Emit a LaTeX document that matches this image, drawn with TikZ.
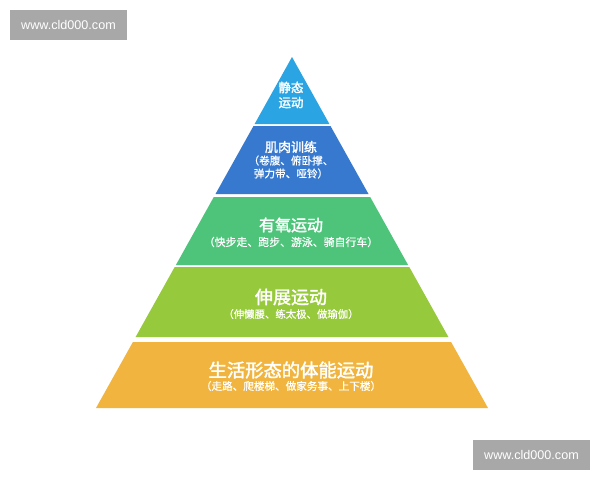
\documentclass[tikz,border=0pt]{standalone}
\usepackage{fontspec}
\setmainfont{Liberation Sans}
\newfontfamily\cjk[AutoFakeBold=2]{Noto Sans CJK SC}
\newfontfamily\cjkthin[AutoFakeBold=0.6]{Noto Sans CJK SC}
\definecolor{tierA}{HTML}{2AA4E2}
\definecolor{tierB}{HTML}{3679CF}
\definecolor{tierC}{HTML}{4DC47A}
\definecolor{tierD}{HTML}{96C93B}
\definecolor{tierE}{HTML}{F1B53F}
\definecolor{wmgrey}{HTML}{A8A8A8}
\begin{document}
\begin{tikzpicture}[x=1pt,y=-1pt,
  title/.style={text=white,font=\cjk\bfseries,inner sep=0pt,align=center},
  sub/.style={text=white,font=\cjkthin\bfseries,inner sep=0pt,align=center},
  wm/.style={fill=wmgrey,text=white,font=\fontsize{12.6}{14}\selectfont,inner sep=0pt,minimum width=117pt,minimum height=30pt}]
\useasboundingbox (0,0) rectangle (600,480);
\fill[white] (0,0) rectangle (600,480);
% slope s = 0.5584, apex (292,57)
\fill[tierA] (292,57) -- (329.4,124) -- (254.6,124) -- cycle;
\fill[tierB] (253.5,126) -- (330.5,126) -- (368.5,194) -- (215.5,194) -- cycle;
\fill[tierC] (213.8,197) -- (370.2,197) -- (408.1,265) -- (175.9,265) -- cycle;
\fill[tierD] (174.7,267) -- (409.3,267) -- (448.4,337) -- (135.6,337) -- cycle;
\fill[tierE] (132.9,342) -- (451.1,342) -- (488,408) -- (96,408) -- cycle;
% texts
\node[title,font=\cjk\bfseries\fontsize{12.5}{15}\selectfont] (t1) at (291,95) {静态\\运动};
\node[title,font=\cjk\bfseries\fontsize{13}{15}\selectfont] (t2) at (291,147) {肌肉训练};
\node[sub,font=\cjkthin\bfseries\fontsize{10.6}{13}\selectfont] (s2) at (291,167) {（卷腹、俯卧撑、\\弹力带、哑铃）};
\node[title,font=\cjk\bfseries\fontsize{16}{18}\selectfont] (t3) at (291,225) {有氧运动};
\node[sub,font=\cjkthin\bfseries\fontsize{10.9}{12}\selectfont] (s3) at (291,242) {（快步走、跑步、游泳、骑自行车）};
\node[title,font=\cjk\bfseries\fontsize{18}{20}\selectfont] (t4) at (291,297) {伸展运动};
\node[sub,font=\cjkthin\bfseries\fontsize{10.4}{12}\selectfont] (s4) at (291,314) {（伸懒腰、练太极、做瑜伽）};
\node[title,font=\cjk\bfseries\fontsize{18.3}{20}\selectfont] (t5) at (291,370) {生活形态的体能运动};
\node[sub,font=\cjkthin\bfseries\fontsize{10.6}{12}\selectfont] (s5) at (291,386) {（走路、爬楼梯、做家务事、上下楼）};
% watermarks
\node[wm] (w1) at (68.5,25) {www.cld000.com};
\node[wm] (w2) at (531.5,455) {www.cld000.com};
\end{tikzpicture}
\end{document}
